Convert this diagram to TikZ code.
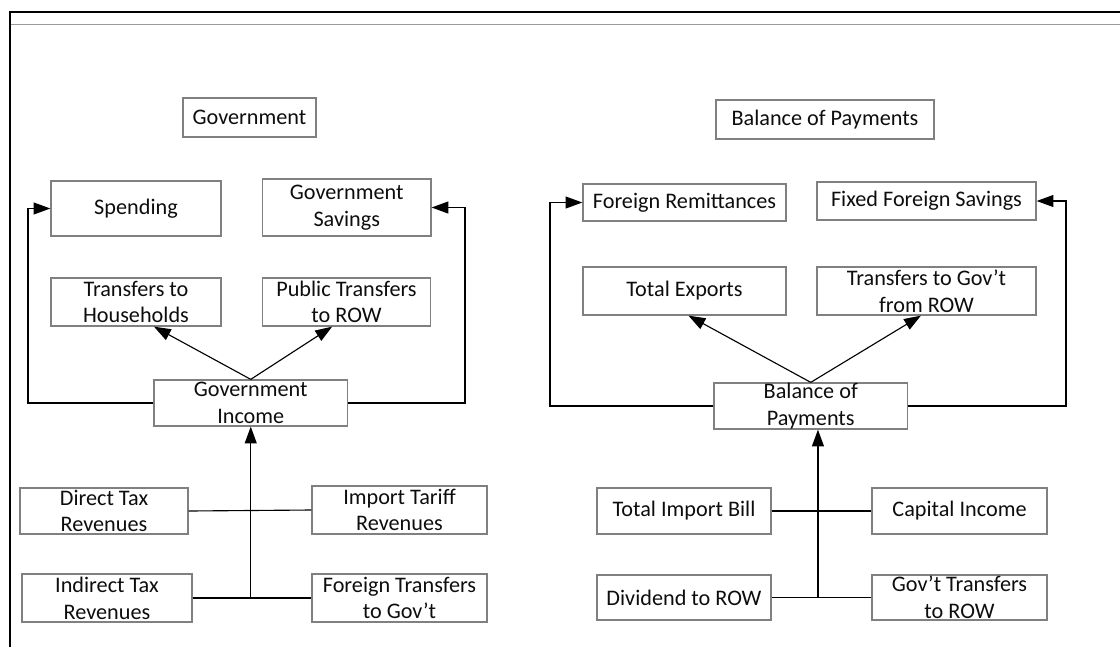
\documentclass[tikz,border=0pt]{standalone}
\usepackage{fontspec}
\setmainfont{Carlito}
\usetikzlibrary{arrows.meta,positioning}

\definecolor{boxgray}{RGB}{128,128,128}

\tikzset{
    blk/.style={draw=boxgray, line width=0.9pt, align=center, inner sep=0pt,
        font=\fontsize{15.8}{19}\selectfont, text=black!95},
    arr/.style={-{Triangle[length=0.42cm,width=0.3cm]}, line width=0.8pt},
    ln/.style={line width=0.8pt},
}

\begin{document}
\begin{tikzpicture}[x=0.025cm,y=-0.025cm]
    		\useasboundingbox (0,0) rectangle (1120,647);

    		% Draw the frame
    		\draw[line width=1.6pt] (10,647) -- (10,12) -- (1120,12);
    		\draw[boxgray!80, line width=1pt] (11,24.5) -- (1120,24.5);

    		% Government side
    		\node[blk, minimum width=3.325cm, minimum height=0.975cm] (gov) at (249.5,117.5) {Government};

    		\node[blk, minimum width=4.25cm, minimum height=1.375cm] (spend) at (136,208.5) {Spending};
    		\node[blk, minimum width=4.21cm, minimum height=1.425cm] (gsav) at (346.75,207.5) {Government\\Savings};

    		\node[blk, minimum width=4.25cm, minimum height=1.2cm] (th) at (136,302) {Transfers to\\Households};
    		\node[blk, minimum width=4.2cm, minimum height=1.2cm] (ptr) at (346.5,302) {Public Transfers\\to ROW};

    		\node[blk, minimum width=4.84cm, minimum height=1.15cm] (gi) at (250.75,403) {Government\\Income};

    		\node[blk, minimum width=4.2cm, minimum height=1.15cm] (dtax) at (104,511) {Direct Tax\\Revenues};
    		\node[blk, minimum width=4.375cm, minimum height=1.2cm] (itar) at (399.5,510) {Import Tariff\\Revenues};

    		\node[blk, minimum width=4.25cm, minimum height=1.2cm] (indtax) at (107,598) {Indirect Tax\\Revenues};
    		\node[blk, minimum width=4.375cm, minimum height=1.2cm] (ftr) at (399.5,598) {Foreign Transfers\\to Gov’t};

    		\coordinate (gl) at (28,300);
    		\coordinate (gr) at (465,300);
    		\draw[arr] (gi.west) -| (gl) |- (spend.west);
    		\draw[arr] (gi.east) -| (gr) |- (gsav.east);

    		\draw[arr] (gi.north) -- ([xshift=0.45cm]th.south);
    		\draw[arr] (gi.north) -- ([xshift=-0.36cm]ptr.south);

    		\draw[ln] (dtax.east) -- (itar.west);
    		\draw[ln] (indtax.east) -- (ftr.west);
    		\coordinate (gj) at (gi.south |- indtax.east);
    		\draw[arr] (gj) -- (gi.south);

    		% Balance of payments side
    		\node[blk, minimum width=5.45cm, minimum height=0.975cm] (bop) at (825,119.5) {Balance of Payments};

    		\node[blk, minimum width=5.075cm, minimum height=0.925cm] (frem) at (684.5,202.5) {Foreign Remittances};
    		\node[blk, minimum width=5.475cm, minimum height=0.95cm] (ffs) at (926.5,201) {Fixed Foreign Savings};

    		\node[blk, minimum width=5.075cm, minimum height=1.2cm] (tex) at (684.5,291) {Total Exports};
    		\node[blk, minimum width=5.475cm, minimum height=1.2cm] (tgr) at (926.5,291) {Transfers to Gov’t\\from ROW};

    		\node[blk, minimum width=4.84cm, minimum height=1.15cm] (bopc) at (810.75,406) {Balance of\\Payments};

    		\node[blk, minimum width=4.35cm, minimum height=1.15cm] (tib) at (684,511) {Total Import Bill};
    		\node[blk, minimum width=4.375cm, minimum height=1.15cm] (cap) at (959.5,511) {Capital Income};

    		\node[blk, minimum width=4.35cm, minimum height=1.125cm] (div) at (684,597.5) {Dividend to ROW};
    		\node[blk, minimum width=4.375cm, minimum height=1.125cm] (gtr) at (959.5,597.5) {Gov’t Transfers\\to ROW};

    		\coordinate (bl) at (550,300);
    		\coordinate (br) at (1066,300);
    		\draw[arr] (bopc.west) -| (bl) |- (frem.west);
    		\draw[arr] (bopc.east) -| (br) |- (ffs.east);

    		\draw[arr] (bopc.north) -- ([xshift=0.1cm]tex.south);
    		\draw[arr] (bopc.north) -- ([xshift=-0.14cm]tgr.south);

    		\draw[ln] (tib.east) -- (cap.west);
    		\draw[ln] (div.east) -- (gtr.west);
    		\coordinate (bj) at ([xshift=0.18cm]bopc.south |- div.east);
    		\draw[arr] (bj) -- (bj |- bopc.south);
    	\end{tikzpicture}
\end{document}
